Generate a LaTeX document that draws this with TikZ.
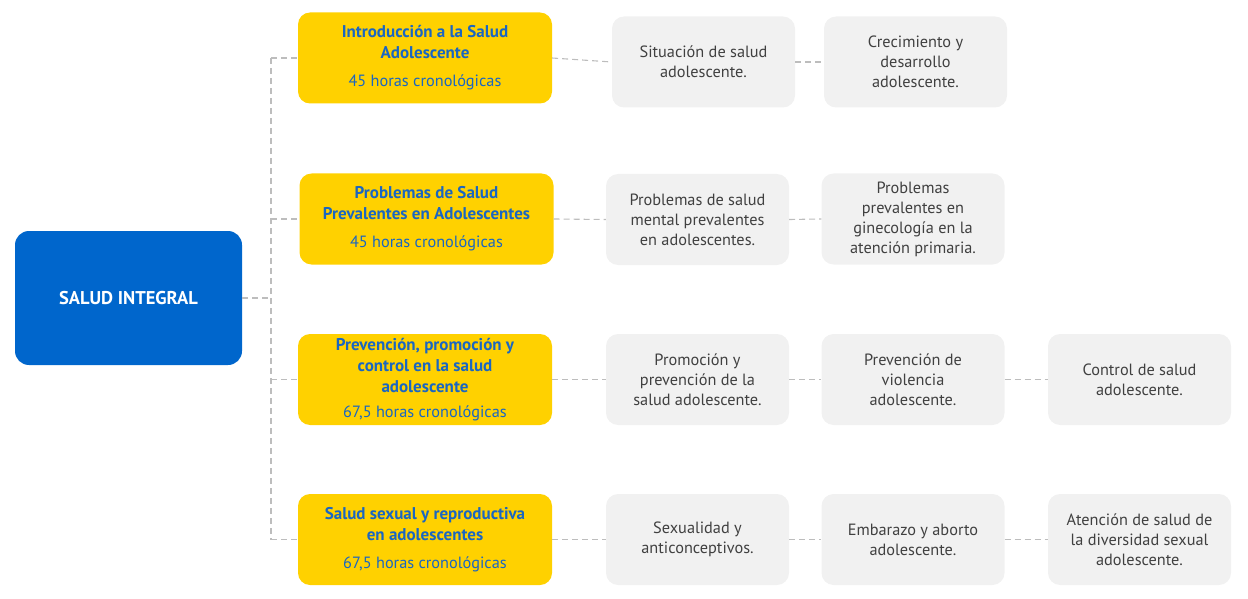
\documentclass[tikz,border=0pt]{standalone}
\usepackage{fontspec}
\setmainfont{PT Sans}
\usetikzlibrary{positioning}

\definecolor{mainblue}{HTML}{0066CC}
\definecolor{titleblue}{HTML}{1A66C2}
\definecolor{modyellow}{HTML}{FFD100}
\definecolor{topicgray}{HTML}{F1F1F1}
\definecolor{topictext}{HTML}{404040}
\definecolor{linkgray}{HTML}{BDBDBD}

\tikzset{
  root/.style={rectangle,rounded corners=14pt,fill=mainblue,text=white,
    minimum width=227pt,minimum height=134pt,align=center,
    font=\fontsize{18.5}{20}\selectfont\bfseries},
  module/.style={rectangle,rounded corners=12pt,fill=modyellow,text=titleblue,
    minimum width=254pt,minimum height=91pt,align=center,inner sep=2pt,
    font=\fontsize{16.3}{21}\selectfont},
  topic/.style={rectangle,rounded corners=12pt,fill=topicgray,text=topictext,
    minimum width=183pt,minimum height=91pt,align=center,inner sep=2pt,
    font=\fontsize{16.3}{20}\selectfont},
  link/.style={draw=linkgray,line width=1.1pt,dash pattern=on 6pt off 4pt}
}
\newcommand{\modt}[1]{{\fontsize{17}{21}\selectfont\bfseries #1}}

\begin{document}
\begin{tikzpicture}[x=1pt,y=-1pt]
  \useasboundingbox (0,0) rectangle (1248,599);

  % root
  \node[root] (salud) at (128.5,298) {SALUD INTEGRAL};

  % modules
  \node[module] (m1) at (425,58) {\modt{Introducción a la Salud}\\\modt{Adolescente}\\[7pt]45 horas cronológicas};
  \node[module] (m2) at (426.5,219) {\modt{Problemas de Salud}\\\modt{Prevalentes en Adolescentes}\\[7pt]45 horas cronológicas};
  \node[module] (m3) at (425,379.5) {\modt{Prevención, promoción y}\\\modt{control en la salud}\\\modt{adolescente}\\[4pt]67,5 horas cronológicas};
  \node[module] (m4) at (425,539.5) {\modt{Salud sexual y reproductiva}\\\modt{en adolescentes}\\[7pt]67,5 horas cronológicas};

  % topics
  \node[topic] (t11) at (703.5,62) {Situación de salud\\adolescente.};
  \node[topic] (t12) at (915.5,62) {Crecimiento y\\desarrollo\\adolescente.};
  \node[topic] (t21) at (697.5,219.5) {Problemas de salud\\mental prevalentes\\en adolescentes.};
  \node[topic] (t22) at (913,219) {Problemas\\prevalentes en\\ginecología en la\\atención primaria.};
  \node[topic] (t31) at (697.5,379.5) {Promoción y\\prevención de la\\salud adolescente.};
  \node[topic] (t32) at (913,379.5) {Prevención de\\violencia\\adolescente.};
  \node[topic] (t33) at (1139.5,379.5) {Control de salud\\adolescente.};
  \node[topic] (t41) at (697.5,539.5) {Sexualidad y\\anticonceptivos.};
  \node[topic] (t42) at (913,539.5) {Embarazo y aborto\\adolescente.};
  \node[topic] (t43) at (1139.5,539.5) {Atención de salud de\\la diversidad sexual\\adolescente.};

  % spine
  \coordinate (s0) at (271,298);
  \coordinate (s1) at (271,58);
  \coordinate (s2) at (271,219);
  \coordinate (s3) at (271,379.5);
  \coordinate (s4) at (271,539.5);

  \draw[link] (salud.east) -- (s0);
  \draw[link] (s1) -- (s4);
  \draw[link] (s1) -- (m1.west);
  \draw[link] (s2) -- (m2.west);
  \draw[link] (s3) -- (m3.west);
  \draw[link] (s4) -- (m4.west);

  \draw[link] (m1.east) -- (t11.west);
  \draw[link] (t11.east) -- (t12.west);
  \draw[link] (m2.east) -- (t21.west);
  \draw[link] (t21.east) -- (t22.west);
  \draw[link] (m3.east) -- (t31.west);
  \draw[link] (t31.east) -- (t32.west);
  \draw[link] (t32.east) -- (t33.west);
  \draw[link] (m4.east) -- (t41.west);
  \draw[link] (t41.east) -- (t42.west);
  \draw[link] (t42.east) -- (t43.west);
\end{tikzpicture}
\end{document}
